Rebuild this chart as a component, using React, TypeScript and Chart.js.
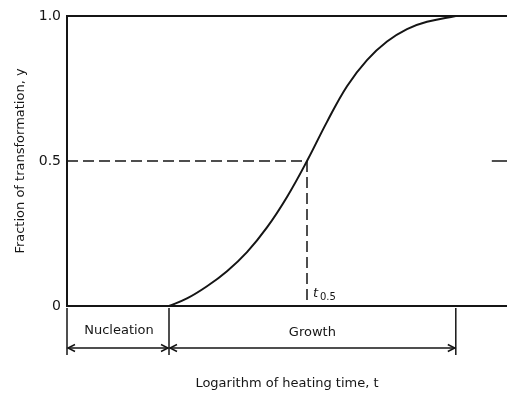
import React, { useEffect, useRef } from 'react';
import { Chart, registerables } from 'chart.js';

Chart.register(...registerables);

// ---- data ----
const curveX = [2.55, 3, 3.5, 4, 4.5, 5, 5.5, 6, 6.5, 7, 7.5, 8, 8.5, 9, 9.72];
const curveY = [0, 0.026, 0.068, 0.12, 0.186, 0.271, 0.376, 0.5, 0.635, 0.758, 0.848, 0.912, 0.955, 0.98, 1.0];
const halfX = 6; // t0.5
const halfY = 0.5;
const xMin = 0;
const xMax = 11;
const yTickValues = [0, 0.5, 1];
const yTickLabels = ['0', '0.5', '1.0'];
const rightMarkX = [10.62, 11];
const stageLabels = ['Nucleation', 'Growth'];
const xTitle = 'Logarithm of heating time, t';
const yTitle = 'Fraction of transformation, y';
const halfLabel = ['t', '0.5'];

const FONT = '"DejaVu Sans", Verdana, sans-serif';
const INK = '#151515';

const annotPlugin = {
  id: 'annot',
  afterDraw(chart: any) {
    const { ctx, scales } = chart;
    const x = scales.x;
    const y = scales.y;
    const x0 = x.getPixelForValue(xMin);
    const xs = x.getPixelForValue(curveX[0]);
    const xe = x.getPixelForValue(curveX[curveX.length - 1]);
    const yb = y.getPixelForValue(0);
    ctx.save();
    ctx.strokeStyle = INK;
    ctx.fillStyle = INK;
    ctx.lineWidth = 1.5;
    // vertical separators
    [x0, xs, xe].forEach((px: number) => {
      ctx.beginPath();
      ctx.moveTo(px, yb + 2);
      ctx.lineTo(px, yb + 49);
      ctx.stroke();
    });
    const ay = yb + 42;
    const arrow = (a: number, b: number) => {
      ctx.beginPath();
      ctx.moveTo(a + 1, ay);
      ctx.lineTo(b - 1, ay);
      ctx.stroke();
      ctx.beginPath();
      ctx.moveTo(a + 8, ay - 3.5);
      ctx.lineTo(a + 1, ay);
      ctx.lineTo(a + 8, ay + 3.5);
      ctx.stroke();
      ctx.beginPath();
      ctx.moveTo(b - 8, ay - 3.5);
      ctx.lineTo(b - 1, ay);
      ctx.lineTo(b - 8, ay + 3.5);
      ctx.stroke();
    };
    arrow(x0, xs);
    arrow(xs, xe);
    ctx.font = `13px ${FONT}`;
    ctx.textAlign = 'center';
    ctx.textBaseline = 'middle';
    ctx.fillText(stageLabels[0], (x0 + xs) / 2 + 1, yb + 25);
    ctx.fillText(stageLabels[1], (xs + xe) / 2, yb + 27);
    // t0.5 label
    const hx = x.getPixelForValue(halfX);
    ctx.textAlign = 'left';
    ctx.font = `italic 13px ${FONT}`;
    ctx.fillText(halfLabel[0], hx + 6, yb - 12);
    ctx.font = `10px ${FONT}`;
    ctx.fillText(halfLabel[1], hx + 13, yb - 9);
    ctx.restore();
  },
};

export default function App() {
  const ref = useRef<HTMLCanvasElement | null>(null);
  useEffect(() => {
    if (!ref.current) return;
    const chart = new Chart(ref.current, {
      type: 'line',
      data: {
        datasets: [
          {
            data: curveX.map((v, i) => ({ x: v, y: curveY[i] })),
            borderColor: INK,
            borderWidth: 2,
            pointRadius: 0,
            tension: 0.4,
            fill: false,
          },
          {
            data: [
              { x: xMin, y: halfY },
              { x: halfX, y: halfY },
            ],
            borderColor: INK,
            borderWidth: 1.5,
            borderDash: [11, 5],
            pointRadius: 0,
          },
          {
            data: [
              { x: halfX, y: halfY },
              { x: halfX, y: 0 },
            ],
            borderColor: INK,
            borderWidth: 1.5,
            borderDash: [11, 5],
            pointRadius: 0,
          },
          {
            data: rightMarkX.map((v) => ({ x: v, y: halfY })),
            borderColor: INK,
            borderWidth: 1.5,
            pointRadius: 0,
          },
        ],
      } as any,
      options: {
        animation: false,
        responsive: false,
        layout: { padding: { left: 0, top: 16, right: 0, bottom: 0 } },
        plugins: { legend: { display: false }, tooltip: { enabled: false } },
        scales: {
          x: {
            type: 'linear',
            position: 'bottom',
            min: xMin,
            max: xMax,
            ticks: { display: false },
            grid: { display: true, drawOnChartArea: false, drawTicks: false, color: 'transparent' },
            border: { display: true, color: INK, width: 2 },
            title: {
              display: true,
              text: xTitle,
              color: INK,
              font: { family: FONT, size: 13 },
              padding: { top: 0, bottom: 5 },
            },
            afterFit: (s: any) => {
              s.height = 90;
            },
          },
          x2: {
            type: 'linear',
            position: 'top',
            min: xMin,
            max: xMax,
            ticks: { display: false },
            grid: { display: true, drawOnChartArea: false, drawTicks: false, color: 'transparent' },
            border: { display: true, color: INK, width: 2 },
            afterFit: (s: any) => {
              s.height = 0;
            },
          },
          y: {
            type: 'linear',
            min: 0,
            max: 1,
            afterBuildTicks: (s: any) => {
              s.ticks = yTickValues.map((v) => ({ value: v }));
            },
            ticks: {
              padding: 6,
              color: INK,
              font: { family: FONT, size: 14 },
              callback: (_v: any, i: number) => yTickLabels[i],
            },
            grid: { display: true, drawOnChartArea: false, drawTicks: false, color: 'transparent' },
            border: { display: true, color: INK, width: 2 },
            title: {
              display: true,
              text: yTitle,
              color: INK,
              font: { family: FONT, size: 13 },
              padding: { top: 13, bottom: 0 },
            },
            afterFit: (s: any) => {
              s.width = 67;
            },
          },
        },
      } as any,
      plugins: [annotPlugin],
    });
    return () => chart.destroy();
  }, []);
  return (
    <div style={{ position: 'fixed', left: 0, top: 0, width: 507, height: 396, background: '#fff' }}>
      <canvas ref={ref} width={507} height={396} style={{ display: 'block' }} />
    </div>
  );
}
